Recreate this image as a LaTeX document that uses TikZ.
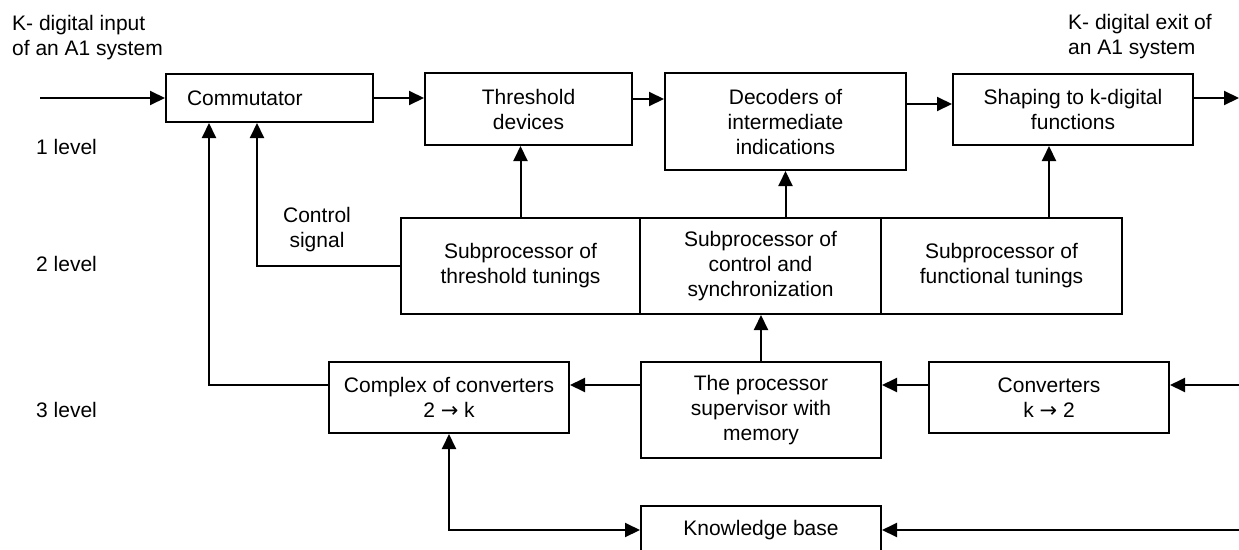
\documentclass[tikz,border=0pt]{standalone}
\usepackage{fontspec}
\setmainfont{Liberation Sans}
\newfontfamily\arrfont{DejaVu Sans}
\usetikzlibrary{arrows.meta}
\begin{document}
\begin{tikzpicture}[x=1pt,y=-1pt,
  every node/.style={font=\fontsize{21}{25}\selectfont, inner sep=0pt},
  blk/.style={draw, line width=2pt, align=center},
  con/.style={line width=2pt, -{Triangle[length=15pt,width=14pt]}},
  bicon/.style={line width=2pt, {Triangle[length=15pt,width=14pt]}-{Triangle[length=15pt,width=14pt]}},
  lbl/.style={align=left, anchor=west}]
\useasboundingbox (0,0) rectangle (1239,549);
\clip (0,0) rectangle (1239,549);
% level 1
\node[blk, minimum height=48pt, text width=165pt, inner xsep=21pt, align=left] (comm) at (269.5,98) {Commutator};
\node[blk, minimum width=207pt, minimum height=72pt] (thr) at (528.5,109) {Threshold\\devices};
\node[blk, minimum width=241pt, minimum height=97pt] (dec) at (785.5,121.5) {Decoders of\\intermediate\\indications};
\node[blk, minimum width=240pt, minimum height=71pt] (shp) at (1073,109.5) {Shaping to k-digital\\functions};
% level 2
\node[blk, minimum width=239pt, minimum height=96pt] (sth) at (520.5,266) {Subprocessor of\\threshold tunings};
\node[blk, minimum width=241pt, minimum height=96pt] (scs) at (760.5,266) {Subprocessor of\\control and\\synchronization};
\node[blk, minimum width=241pt, minimum height=96pt] (sft) at (1001.5,266) {Subprocessor of\\functional tunings};
% level 3
\node[blk, minimum width=240pt, minimum height=71pt] (cmp) at (449,397.5) {Complex of converters\\2 {\arrfont →} k};
\node[blk, minimum width=240pt, minimum height=96pt] (prc) at (761,410) {The processor\\supervisor with\\memory};
\node[blk, minimum width=240pt, minimum height=71pt] (cnv) at (1049,397.5) {Converters\\k {\arrfont →} 2};
\node[blk, minimum width=240pt, minimum height=48pt] (kb) at (761,530) {Knowledge base};
% labels
\node[lbl] (tl) at (12,38) {K- digital input\\of an A1 system};
\node[lbl] (tr) at (1068,37) {K- digital exit of\\an A1 system};
\node[lbl] (l1) at (36,147) {1 level};
\node[lbl] (l2) at (36,264) {2 level};
\node[lbl] (l3) at (36,410) {3 level};
\node[align=center] (cs) at (317,230) {Control\\signal};
% free ends
\coordinate (inL) at (40,98);
\coordinate (outR) at (1239,98);
\coordinate (inR) at (1239,385);
\coordinate (kbR) at (1239,530);
% connectors
\draw[con] (inL) -- (comm.west);
\draw[con] (comm.east) -- (comm.east -| thr.west);
\draw[con] ([yshift=10pt]thr.east) -- ([yshift=10pt]thr.east -| dec.west);
\draw[con] ([yshift=17.5pt]dec.east) -- ([yshift=17.5pt]dec.east -| shp.west);
\draw[con] ([yshift=11.5pt]shp.east) -- (outR);
\draw[con] (sth.north) -- (sth.north |- thr.south);
\draw[con] (scs.north -| dec.south) -- (dec.south);
\draw[con] ([xshift=47.5pt]sft.north) -- ([xshift=47.5pt]sft.north |- shp.south);
\draw[con] (sth.west) -| ([xshift=-12.5pt]comm.south);
\draw[con] ([yshift=12.5pt]cmp.west) -| ([xshift=-60.5pt]comm.south);
\draw[con] ([yshift=25pt]prc.west) -- ([yshift=25pt]prc.west -| cmp.east);
\draw[con] (prc.north) -- (prc.north |- scs.south);
\draw[con] ([yshift=12.5pt]cnv.west) -- ([yshift=12.5pt]cnv.west -| prc.east);
\draw[con] (inR) -- (inR -| cnv.east);
\draw[bicon] (cmp.south) |- (kb.west);
\draw[con] (kbR) -- (kb.east);
\end{tikzpicture}
\end{document}
